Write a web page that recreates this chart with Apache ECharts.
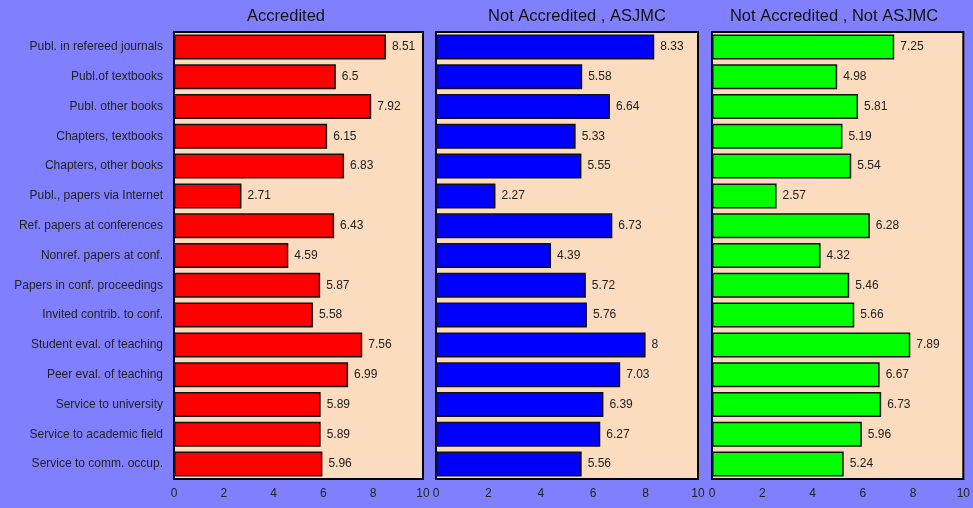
<!DOCTYPE html>
<html>
<head>
<meta charset="utf-8">
<script src="https://cdn.jsdelivr.net/npm/echarts@6/dist/echarts.min.js"></script>
<style>
  html, body { margin: 0; padding: 0; background: #8080ff; }
  #chart { width: 973px; height: 508px; }
</style>
</head>
<body>
<div id="chart"></div>
<script>
// categories (top to bottom)
var categories = [
    'Publ. in refereed journals', 'Publ.of textbooks', 'Publ. other books',
    'Chapters, textbooks', 'Chapters, other books', 'Publ., papers via Internet',
    'Ref. papers at conferences', 'Nonref. papers at conf.', 'Papers in conf. proceedings',
    'Invited contrib. to conf.', 'Student eval. of teaching', 'Peer eval. of teaching',
    'Service to university', 'Service to academic field', 'Service to comm. occup.'
];
var panelTitles = ['Accredited', 'Not Accredited , ASJMC', 'Not Accredited , Not ASJMC'];
var accredited = [8.51, 6.5, 7.92, 6.15, 6.83, 2.71, 6.43, 4.59, 5.87, 5.58, 7.56, 6.99, 5.89, 5.89, 5.96];
var asjmc = [8.33, 5.58, 6.64, 5.33, 5.55, 2.27, 6.73, 4.39, 5.72, 5.76, 8, 7.03, 6.39, 6.27, 5.56];
var notAsjmc = [7.25, 4.98, 5.81, 5.19, 5.54, 2.57, 6.28, 4.32, 5.46, 5.66, 7.89, 6.67, 6.73, 5.96, 5.24];
var xTicks = [0, 2, 4, 6, 8, 10];

var chart = echarts.init(document.getElementById('chart'));
var font = 'Liberation Sans, Arial, sans-serif';
var textColor = '#222';

//三个面板的位置
var panels = [
    {left: 174, width: 249, titleX: 286, data: accredited, color: '#ff0000'},
    {left: 436, width: 262, titleX: 577, data: asjmc, color: '#0000ff'},
    {left: 712, width: 254, titleX: 834, data: notAsjmc, color: '#00ff00'}
];

var grids = [], xAxes = [], yAxes = [], series = [], texts = [];
panels.forEach(function (p, i) {
    grids.push({
        left: p.left, width: p.width, top: 32, height: 447,
        show: true, backgroundColor: '#fcdcbf',
        borderColor: '#000', borderWidth: 2
    });
    xAxes.push({
        gridIndex: i, type: 'value', min: xTicks[0], max: xTicks[xTicks.length - 1], interval: 2,
        axisLine: {show: false}, axisTick: {show: false}, splitLine: {show: false},
        axisLabel: {fontSize: 12, color: textColor, fontFamily: font, margin: 9}
    });
    yAxes.push({
        gridIndex: i, type: 'category', data: categories, inverse: true,
        axisLine: {show: false}, axisTick: {show: false}, splitLine: {show: false},
        axisLabel: {show: i === 0, fontSize: 12, color: textColor, fontFamily: font, margin: 11}
    });
    series.push({
        type: 'bar', xAxisIndex: i, yAxisIndex: i, data: p.data,
        barCategoryGap: '16%',
        itemStyle: {color: p.color, borderColor: '#111', borderWidth: 1.5},
        label: {show: true, position: 'right', distance: 6, fontSize: 12, color: textColor, fontFamily: font},
        animation: false
    });
    texts.push({
        type: 'text', x: p.titleX, y: 16,
        style: {
            text: panelTitles[i], fill: '#111', fontSize: 16.5, fontFamily: font,
            align: 'center', verticalAlign: 'middle', textAlign: 'center', textVerticalAlign: 'middle'
        }
    });
});

chart.setOption({
    backgroundColor: '#8080ff',
    animation: false,
    grid: grids,
    xAxis: xAxes,
    yAxis: yAxes,
    series: series,
    graphic: texts
});

window.onresize = function () {
    chart.resize();
};
</script>
</body>
</html>
